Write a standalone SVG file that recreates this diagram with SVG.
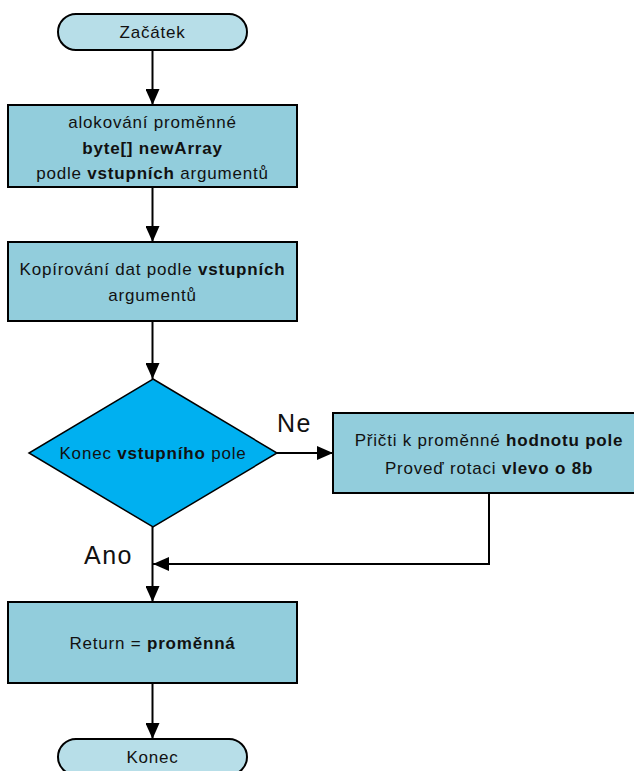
<svg xmlns="http://www.w3.org/2000/svg" width="634" height="771" viewBox="0 0 634 771">
  <style>
    text { font-family: "Liberation Sans", Arial, sans-serif; font-size: 17px; letter-spacing: 0.8px; fill: #111; text-anchor: middle; }
    .b { font-weight: bold; }
    .term { fill: #B7DEE8; stroke: #000; stroke-width: 2; }
    .proc { fill: #92CDDC; stroke: #000; stroke-width: 2; }
    .dec { fill: #00B0F0; stroke: #000; stroke-width: 1.5; }
    .lbl { font-size: 25px; letter-spacing: 1.5px; text-anchor: start; }
    .conn path { fill: none; stroke: #000; stroke-width: 2; }
  </style>
  <defs>
    <marker id="arrow" viewBox="0 0 16 14" refX="16" refY="7" markerWidth="16" markerHeight="14" markerUnits="userSpaceOnUse" orient="auto">
      <path d="M0,0 L16,7 L0,14 Z" fill="#000"/>
    </marker>
  </defs>
  <rect width="634" height="771" fill="#fff"/>

  <g class="conn">
    <path d="M152.5,50 V105" marker-end="url(#arrow)"/>
    <path d="M152.5,187 V242" marker-end="url(#arrow)"/>
    <path d="M152.5,321 V379" marker-end="url(#arrow)"/>
    <path d="M152.5,527 V602" marker-end="url(#arrow)"/>
    <path d="M152.5,683 V739" marker-end="url(#arrow)"/>
    <path d="M276,453 H333" marker-end="url(#arrow)"/>
    <path d="M489,493 V564 H153" marker-end="url(#arrow)"/>
  </g>

  <g id="start">
    <rect class="term" x="58" y="14" width="189" height="36" rx="18"/>
    <text x="152.5" y="38">Začátek</text>
  </g>

  <g id="alloc">
    <rect class="proc" x="8" y="105" width="289" height="82"/>
    <text x="152.5" y="128">alokování proměnné</text>
    <text x="152.5" y="154" class="b">byte[] newArray</text>
    <text x="152.5" y="179">podle <tspan class="b">vstupních</tspan> argumentů</text>
  </g>

  <g id="copy">
    <rect class="proc" x="8" y="242" width="289" height="79"/>
    <text x="152.5" y="275">Kopírování dat podle <tspan class="b">vstupních</tspan></text>
    <text x="152.5" y="301">argumentů</text>
  </g>

  <g id="check">
    <path class="dec" d="M153,379 L277,453 L153,527 L29,453 Z"/>
    <text x="153" y="459">Konec <tspan class="b">vstupního</tspan> pole</text>
  </g>

  <g id="add">
    <rect class="proc" x="333" y="413" width="312" height="80"/>
    <text x="489" y="446">Přičti k proměnné <tspan class="b">hodnotu pole</tspan></text>
    <text x="489" y="474">Proveď rotaci <tspan class="b">vlevo o 8b</tspan></text>
  </g>

  <g id="ret">
    <rect class="proc" x="8" y="602" width="289" height="81"/>
    <text x="152.5" y="649">Return = <tspan class="b">proměnná</tspan></text>
  </g>

  <g id="end">
    <rect class="term" x="58" y="739" width="189" height="36" rx="18"/>
    <text x="152.5" y="763">Konec</text>
  </g>

  <g id="labels">
    <text class="lbl" x="277" y="432">Ne</text>
    <text class="lbl" x="84" y="564">Ano</text>
  </g>
</svg>
